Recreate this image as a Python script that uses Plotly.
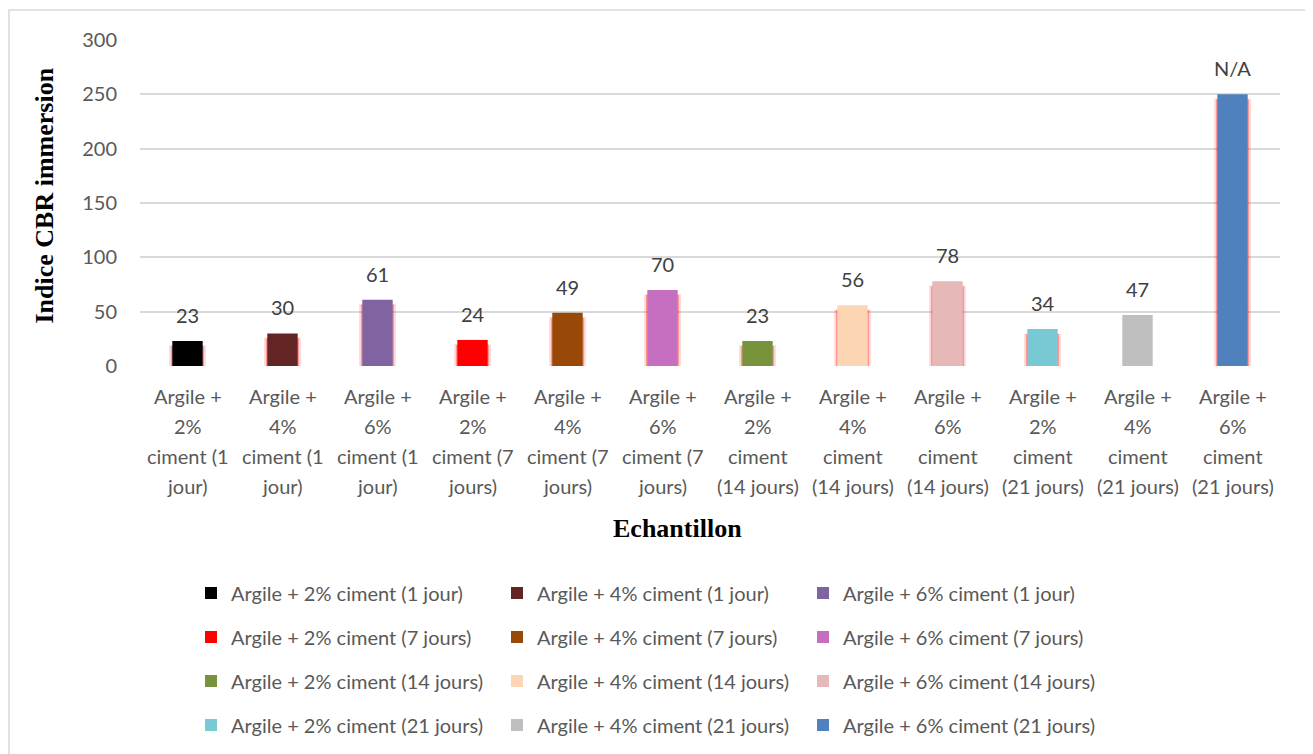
import plotly.graph_objects as go

categories = [
    "Argile + 2% ciment (1 jour)", "Argile + 4% ciment (1 jour)", "Argile + 6% ciment (1 jour)",
    "Argile + 2% ciment (7 jours)", "Argile + 4% ciment (7 jours)", "Argile + 6% ciment (7 jours)",
    "Argile + 2% ciment (14 jours)", "Argile + 4% ciment (14 jours)", "Argile + 6% ciment (14 jours)",
    "Argile + 2% ciment (21 jours)", "Argile + 4% ciment (21 jours)", "Argile + 6% ciment (21 jours)",
]
values = [23, 30, 61, 24, 49, 70, 23, 56, 78, 34, 47, 250]
value_labels = ["23", "30", "61", "24", "49", "70", "23", "56", "78", "34", "47", "N/A"]
tick_lines = [
    ["Argile +", "2%", "ciment (1", "jour)"],
    ["Argile +", "4%", "ciment (1", "jour)"],
    ["Argile +", "6%", "ciment (1", "jour)"],
    ["Argile +", "2%", "ciment (7", "jours)"],
    ["Argile +", "4%", "ciment (7", "jours)"],
    ["Argile +", "6%", "ciment (7", "jours)"],
    ["Argile +", "2%", "ciment", "(14 jours)"],
    ["Argile +", "4%", "ciment", "(14 jours)"],
    ["Argile +", "6%", "ciment", "(14 jours)"],
    ["Argile +", "2%", "ciment", "(21 jours)"],
    ["Argile +", "4%", "ciment", "(21 jours)"],
    ["Argile +", "6%", "ciment", "(21 jours)"],
]
colors = ["#000000", "#632523", "#8064A2", "#FF0000", "#984807", "#C66FC0",
          "#77933C", "#FCD5B5", "#E6B9B8", "#78C9D4", "#BFBFBF", "#4F81BD"]
glow = [True, True, True, True, True, True, True, True, True, True, False, True]

FONT = "Lato"
FS = 20
GRAY = "#595959"

fig = go.Figure()

# red glow behind bars
for i, (c, v) in enumerate(zip(categories, values)):
    if glow[i]:
        fig.add_trace(go.Bar(x=[c], y=[v - 2], base=[-2], width=0.39,
                             marker=dict(color="rgba(255,0,0,0.13)", line=dict(width=0)),
                             showlegend=False, hoverinfo="skip"))
        fig.add_trace(go.Bar(x=[c], y=[v - 3], base=[-1.5], width=0.35,
                             marker=dict(color="rgba(255,0,0,0.33)", line=dict(width=0)),
                             showlegend=False, hoverinfo="skip"))

for i, (c, v, col) in enumerate(zip(categories, values, colors)):
    leg = "legend" if i < 3 else "legend%d" % (i // 3 + 1)
    fig.add_trace(go.Bar(x=[c], y=[v], name=c, width=0.32,
                         marker=dict(color=col, line=dict(width=0)),
                         legend=leg))

annotations = []
for c, v, lab in zip(categories, values, value_labels):
    annotations.append(dict(x=c, y=v, xref="x", yref="y", text=lab, showarrow=False,
                            yanchor="bottom", yshift=12,
                            font=dict(family=FONT, size=FS, color="#404040")))
for c, lines in zip(categories, tick_lines):
    for k, ln in enumerate(lines):
        annotations.append(dict(x=c, y=0, xref="x", yref="y", text=ln, showarrow=False,
                                yanchor="middle", yshift=-30 * (k + 1),
                                font=dict(family=FONT, size=FS, color=GRAY)))

# page-pixel helpers (figure is placed at an 8px body offset)
plot_h = 327
def ly(py):
    return (367 - py) / plot_h
def lx(px):
    return (px - 140) / 1140

annotations.append(dict(x=lx(677), y=ly(530), xref="paper", yref="paper", text="<b>Echantillon</b>",
                        showarrow=False, xanchor="center", yanchor="middle",
                        font=dict(family="Liberation Serif", size=26, color="#000000")))
annotations.append(dict(x=lx(45), y=ly(196), xref="paper", yref="paper",
                        text="<b>Indice CBR immersion</b>", textangle=-90,
                        showarrow=False, xanchor="center", yanchor="middle",
                        font=dict(family="Liberation Serif", size=26, color="#000000")))

legend_common = dict(orientation="h", font=dict(family=FONT, size=FS, color=GRAY),
                     entrywidth=261, entrywidthmode="pixels", xanchor="left", yanchor="middle",
                     bgcolor="rgba(0,0,0,0)", itemclick=False, traceorder="normal")

layout_legends = {}
for n, py in enumerate([593, 637, 681, 725]):
    key = "legend" if n == 0 else "legend%d" % (n + 1)
    layout_legends[key] = dict(legend_common, x=lx(191), y=ly(py))

fig.update_layout(
    width=1305, height=746,
    margin=dict(l=132, r=33, t=32, b=387),
    paper_bgcolor="white", plot_bgcolor="white",
    barmode="overlay",
    showlegend=True,
    annotations=annotations,
    xaxis=dict(showticklabels=False, showgrid=False, zeroline=False, showline=False, ticks="",
               categoryorder="array", categoryarray=categories),
    yaxis=dict(range=[0, 300], dtick=50, showgrid=True, gridcolor="#D9D9D9", gridwidth=1.5,
               zeroline=False, showline=False, ticks="", ticklabelstandoff=22,
               tickfont=dict(family=FONT, size=FS, color=GRAY)),
    shapes=[dict(type="rect", xref="paper", yref="paper",
                 x0=lx(9), x1=lx(1306),
                 y0=ly(770), y1=ly(10), line=dict(color="#D9D9D9", width=1.5),
                 fillcolor="rgba(0,0,0,0)", layer="below")],
    **layout_legends,
)

fig.write_html("out.html")
